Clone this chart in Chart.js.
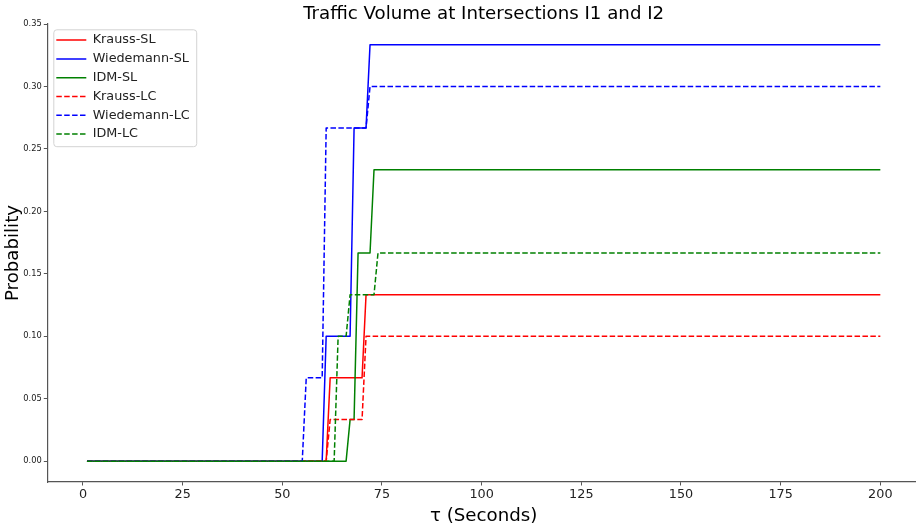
<!DOCTYPE html>
<html>
<head>
<meta charset="utf-8">
<script src="https://cdn.jsdelivr.net/npm/chart.js@4.4.1/dist/chart.umd.min.js"></script>
<style>
  html, body { margin: 0; padding: 0; background: #fff; overflow: hidden; }
  #wrap { width: 924px; height: 530px; }
</style>
</head>
<body>
<div id="wrap"><canvas id="c" width="924" height="530"></canvas></div>
<script>
// ---- Data (breakpoints of each curve, τ in seconds vs probability) ----
const seriesNames = ["Krauss-SL", "Wiedemann-SL", "IDM-SL", "Krauss-LC", "Wiedemann-LC", "IDM-LC"];

const kraussSL_x = [1, 61, 62, 70, 71, 200];
const kraussSL_y = [0, 0, 0.0667, 0.0667, 0.1333, 0.1333];

const wiedemannSL_x = [1, 60, 61, 67, 68, 71, 72, 200];
const wiedemannSL_y = [0, 0, 0.10, 0.10, 0.2667, 0.2667, 0.3333, 0.3333];

const idmSL_x = [1, 66, 67, 68, 69, 72, 73, 200];
const idmSL_y = [0, 0, 0.0333, 0.0333, 0.1667, 0.1667, 0.2333, 0.2333];

const kraussLC_x = [1, 61, 62, 70, 71, 200];
const kraussLC_y = [0, 0, 0.0333, 0.0333, 0.10, 0.10];

const wiedemannLC_x = [1, 55, 56, 60, 61, 71, 72, 200];
const wiedemannLC_y = [0, 0, 0.0667, 0.0667, 0.2667, 0.2667, 0.30, 0.30];

const idmLC_x = [1, 63, 64, 66, 67, 73, 74, 200];
const idmLC_y = [0, 0, 0.10, 0.10, 0.1333, 0.1333, 0.1667, 0.1667];

const xTickValues = [0, 25, 50, 75, 100, 125, 150, 175, 200];
const yTickValues = [0, 0.05, 0.10, 0.15, 0.20, 0.25, 0.30, 0.35];

const titleText = "Traffic Volume at Intersections I1 and I2";
const xTitle = "τ (Seconds)";
const yTitle = "Probability";

// ---- Build datasets ----
const xs = [kraussSL_x, wiedemannSL_x, idmSL_x, kraussLC_x, wiedemannLC_x, idmLC_x];
const ys = [kraussSL_y, wiedemannSL_y, idmSL_y, kraussLC_y, wiedemannLC_y, idmLC_y];
const colors = ["#ff0000", "#0000ff", "#008000", "#ff0000", "#0000ff", "#008000"];
const dashes = [[], [], [], [5.5, 2.4], [5.5, 2.4], [5.5, 2.4]];

const datasets = seriesNames.map((name, i) => ({
  label: name,
  data: xs[i].map((x, k) => ({ x: x, y: ys[i][k] })),
  borderColor: colors[i],
  backgroundColor: colors[i],
  borderWidth: 1.5,
  borderDash: dashes[i],
  borderJoinStyle: 'round',
  pointRadius: 0,
  pointHoverRadius: 0,
  tension: 0,
  fill: false,
  order: seriesNames.length - 1 - i
}));

Chart.defaults.font.family = "'DejaVu Sans', sans-serif";
Chart.defaults.color = "#222";

const legendFramePlugin = {
  id: 'legendFrame',
  afterLayout(chart) {
    const lg = chart.legend;
    if (!lg) return;
    lg.left = chart.chartArea.left + 3;
    lg.top = chart.chartArea.top + 3.7;
  },
  beforeDraw(chart) {
    const lg = chart.legend;
    if (!lg || !lg.legendHitBoxes || !lg.legendHitBoxes.length) return;
    const hb = lg.legendHitBoxes;
    let r = 0, b = 0;
    hb.forEach(h => { r = Math.max(r, h.left + h.width); b = Math.max(b, h.top + h.height); });
    const x0 = chart.chartArea.left + 6, y0 = chart.chartArea.top + 5.3;
    const x1 = r + 6.5, y1 = b + 5.7;
    const ctx = chart.ctx;
    ctx.save();
    ctx.beginPath();
    if (ctx.roundRect) ctx.roundRect(x0 + 0.5, y0 + 0.5, x1 - x0, y1 - y0, 3);
    else ctx.rect(x0 + 0.5, y0 + 0.5, x1 - x0, y1 - y0);
    ctx.fillStyle = 'rgba(255,255,255,0.8)';
    ctx.fill();
    ctx.strokeStyle = '#d3d3d3';
    ctx.lineWidth = 1;
    ctx.stroke();
    ctx.restore();
  }
};

const titlePlugin = {
  id: 'axesTitle',
  afterDraw(chart) {
    const ctx = chart.ctx;
    const ca = chart.chartArea;
    ctx.save();
    ctx.font = "18.2px 'DejaVu Sans', sans-serif";
    ctx.fillStyle = '#000';
    ctx.textAlign = 'center';
    ctx.textBaseline = 'alphabetic';
    ctx.fillText(titleText, (ca.left + ca.right) / 2, 19);
    ctx.restore();
  }
};

new Chart(document.getElementById('c'), {
  type: 'line',
  data: { datasets: datasets },
  plugins: [legendFramePlugin, titlePlugin],
  options: {
    responsive: false,
    animation: false,
    devicePixelRatio: 1,
    layout: { padding: { top: 24, right: 4, bottom: 0, left: 0 } },
    plugins: {
      title: { display: false },
      tooltip: { enabled: false },
      legend: {
        display: true,
        position: 'chartArea',
        align: 'start',
        labels: {
          usePointStyle: true,
          pointStyle: 'line',
          pointStyleWidth: 30,
          padding: 6,
          color: '#222',
          font: { size: 12.8 },
          sort: (a, b) => a.datasetIndex - b.datasetIndex,
          generateLabels: (chart) => chart.data.datasets.map((ds, i) => ({
            text: ds.label,
            datasetIndex: i,
            fillStyle: ds.borderColor,
            strokeStyle: ds.borderColor,
            lineWidth: ds.borderWidth,
            lineDash: ds.borderDash,
            lineCap: 'butt',
            pointStyle: 'line',
            hidden: false,
            fontColor: '#222'
          }))
        }
      }
    },
    scales: {
      x: {
        type: 'linear',
        min: -8.95,
        max: 209.95,
        afterBuildTicks: (s) => { s.ticks = xTickValues.map(v => ({ value: v })); },
        afterFit: (s) => { s.height = 48; },
        ticks: {
          autoSkip: false,
          maxRotation: 0,
          padding: 1,
          color: '#222',
          font: { size: 12.8 },
          callback: (v) => String(v)
        },
        grid: { display: true, drawOnChartArea: false, drawTicks: true, tickLength: 3.5, tickColor: '#555', tickWidth: 1 },
        border: { display: true, color: '#555', width: 1.2 },
        title: { display: true, text: xTitle, color: '#000', font: { size: 18.2 }, padding: { top: 0, bottom: 3 } }
      },
      y: {
        type: 'linear',
        min: -0.01667,
        max: 0.35,
        afterBuildTicks: (s) => { s.ticks = yTickValues.map(v => ({ value: v })); },
        afterFit: (s) => { s.width = 47.3; },
        ticks: {
          autoSkip: false,
          padding: 2,
          color: '#222',
          font: { size: 8.3 },
          callback: (v) => Number(v).toFixed(2)
        },
        grid: { display: true, drawOnChartArea: false, drawTicks: true, tickLength: 3.5, tickColor: '#555', tickWidth: 1 },
        border: { display: true, color: '#555', width: 1.2 },
        title: { display: true, text: yTitle, color: '#000', font: { size: 18.2 }, padding: { top: 2.6, bottom: 0 } }
      }
    }
  }
});
</script>
</body>
</html>
